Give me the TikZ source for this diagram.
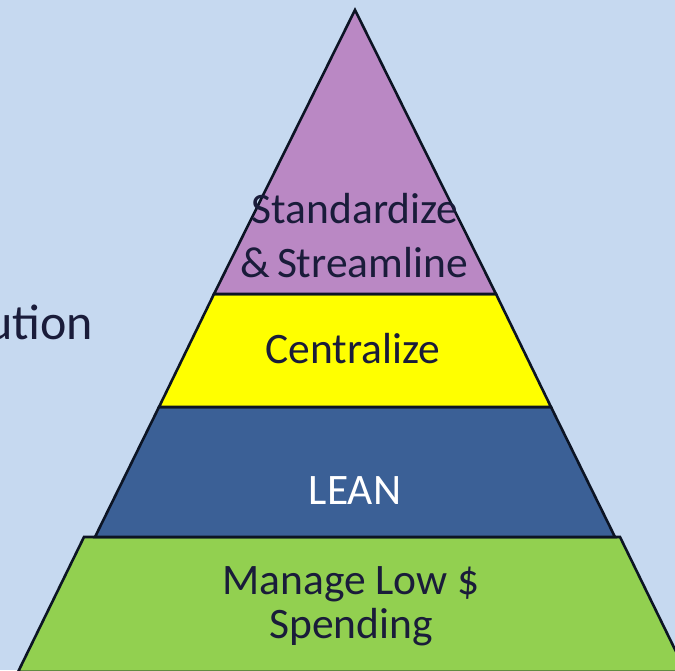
\documentclass[tikz,border=0pt]{standalone}
\usepackage{fontspec}
\setmainfont{Carlito}
\definecolor{bgc}{HTML}{C6D9F0}
\definecolor{purp}{HTML}{BA88C4}
\definecolor{yel}{HTML}{FFFF00}
\definecolor{blu}{HTML}{3B6096}
\definecolor{grn}{HTML}{92D050}
\definecolor{edge}{HTML}{0C1424}
\definecolor{ink}{HTML}{1A1C3A}
\tikzset{
  layer/.style={draw=edge, line width=2.6pt, line join=miter},
  lbl/.style={font=\fontsize{43.5}{54}\selectfont, text=ink, align=center, inner sep=0pt, anchor=base},
}
\begin{document}
\begin{tikzpicture}[x=1pt,y=-1pt]
\fill[bgc] (0,0) rectangle (675,670);
\useasboundingbox (0,0) rectangle (675,670);
% layers
\draw[layer, fill=grn] (84,537) -- (620,537) -- (686,672) -- (18,672) -- cycle;
\draw[layer, fill=blu] (159,407) -- (551,407) -- (615,537) -- (95,537) -- cycle;
\draw[layer, fill=yel] (214,294) -- (496,294) -- (551,407) -- (159,407) -- cycle;
\draw[layer, fill=purp] (355,10) -- (496,294) -- (214,294) -- cycle;
% labels
\node[lbl] (std) at (355,223) {Standardize};
\node[lbl] (str) at (354,277) {\&\,Streamline};
\node[lbl] (cen) at (353,363) {Centralize};
\node[lbl, text=white] (lean) at (355,504) {LEAN};
\node[lbl] (man) at (351,594) {Manage Low \$};
\node[lbl] (spe) at (351,638) {Spending};
\node[font=\fontsize{50}{60}\selectfont, text=ink, inner sep=0pt, anchor=base east] (sol) at (93,339) {ution};
\end{tikzpicture}
\end{document}
